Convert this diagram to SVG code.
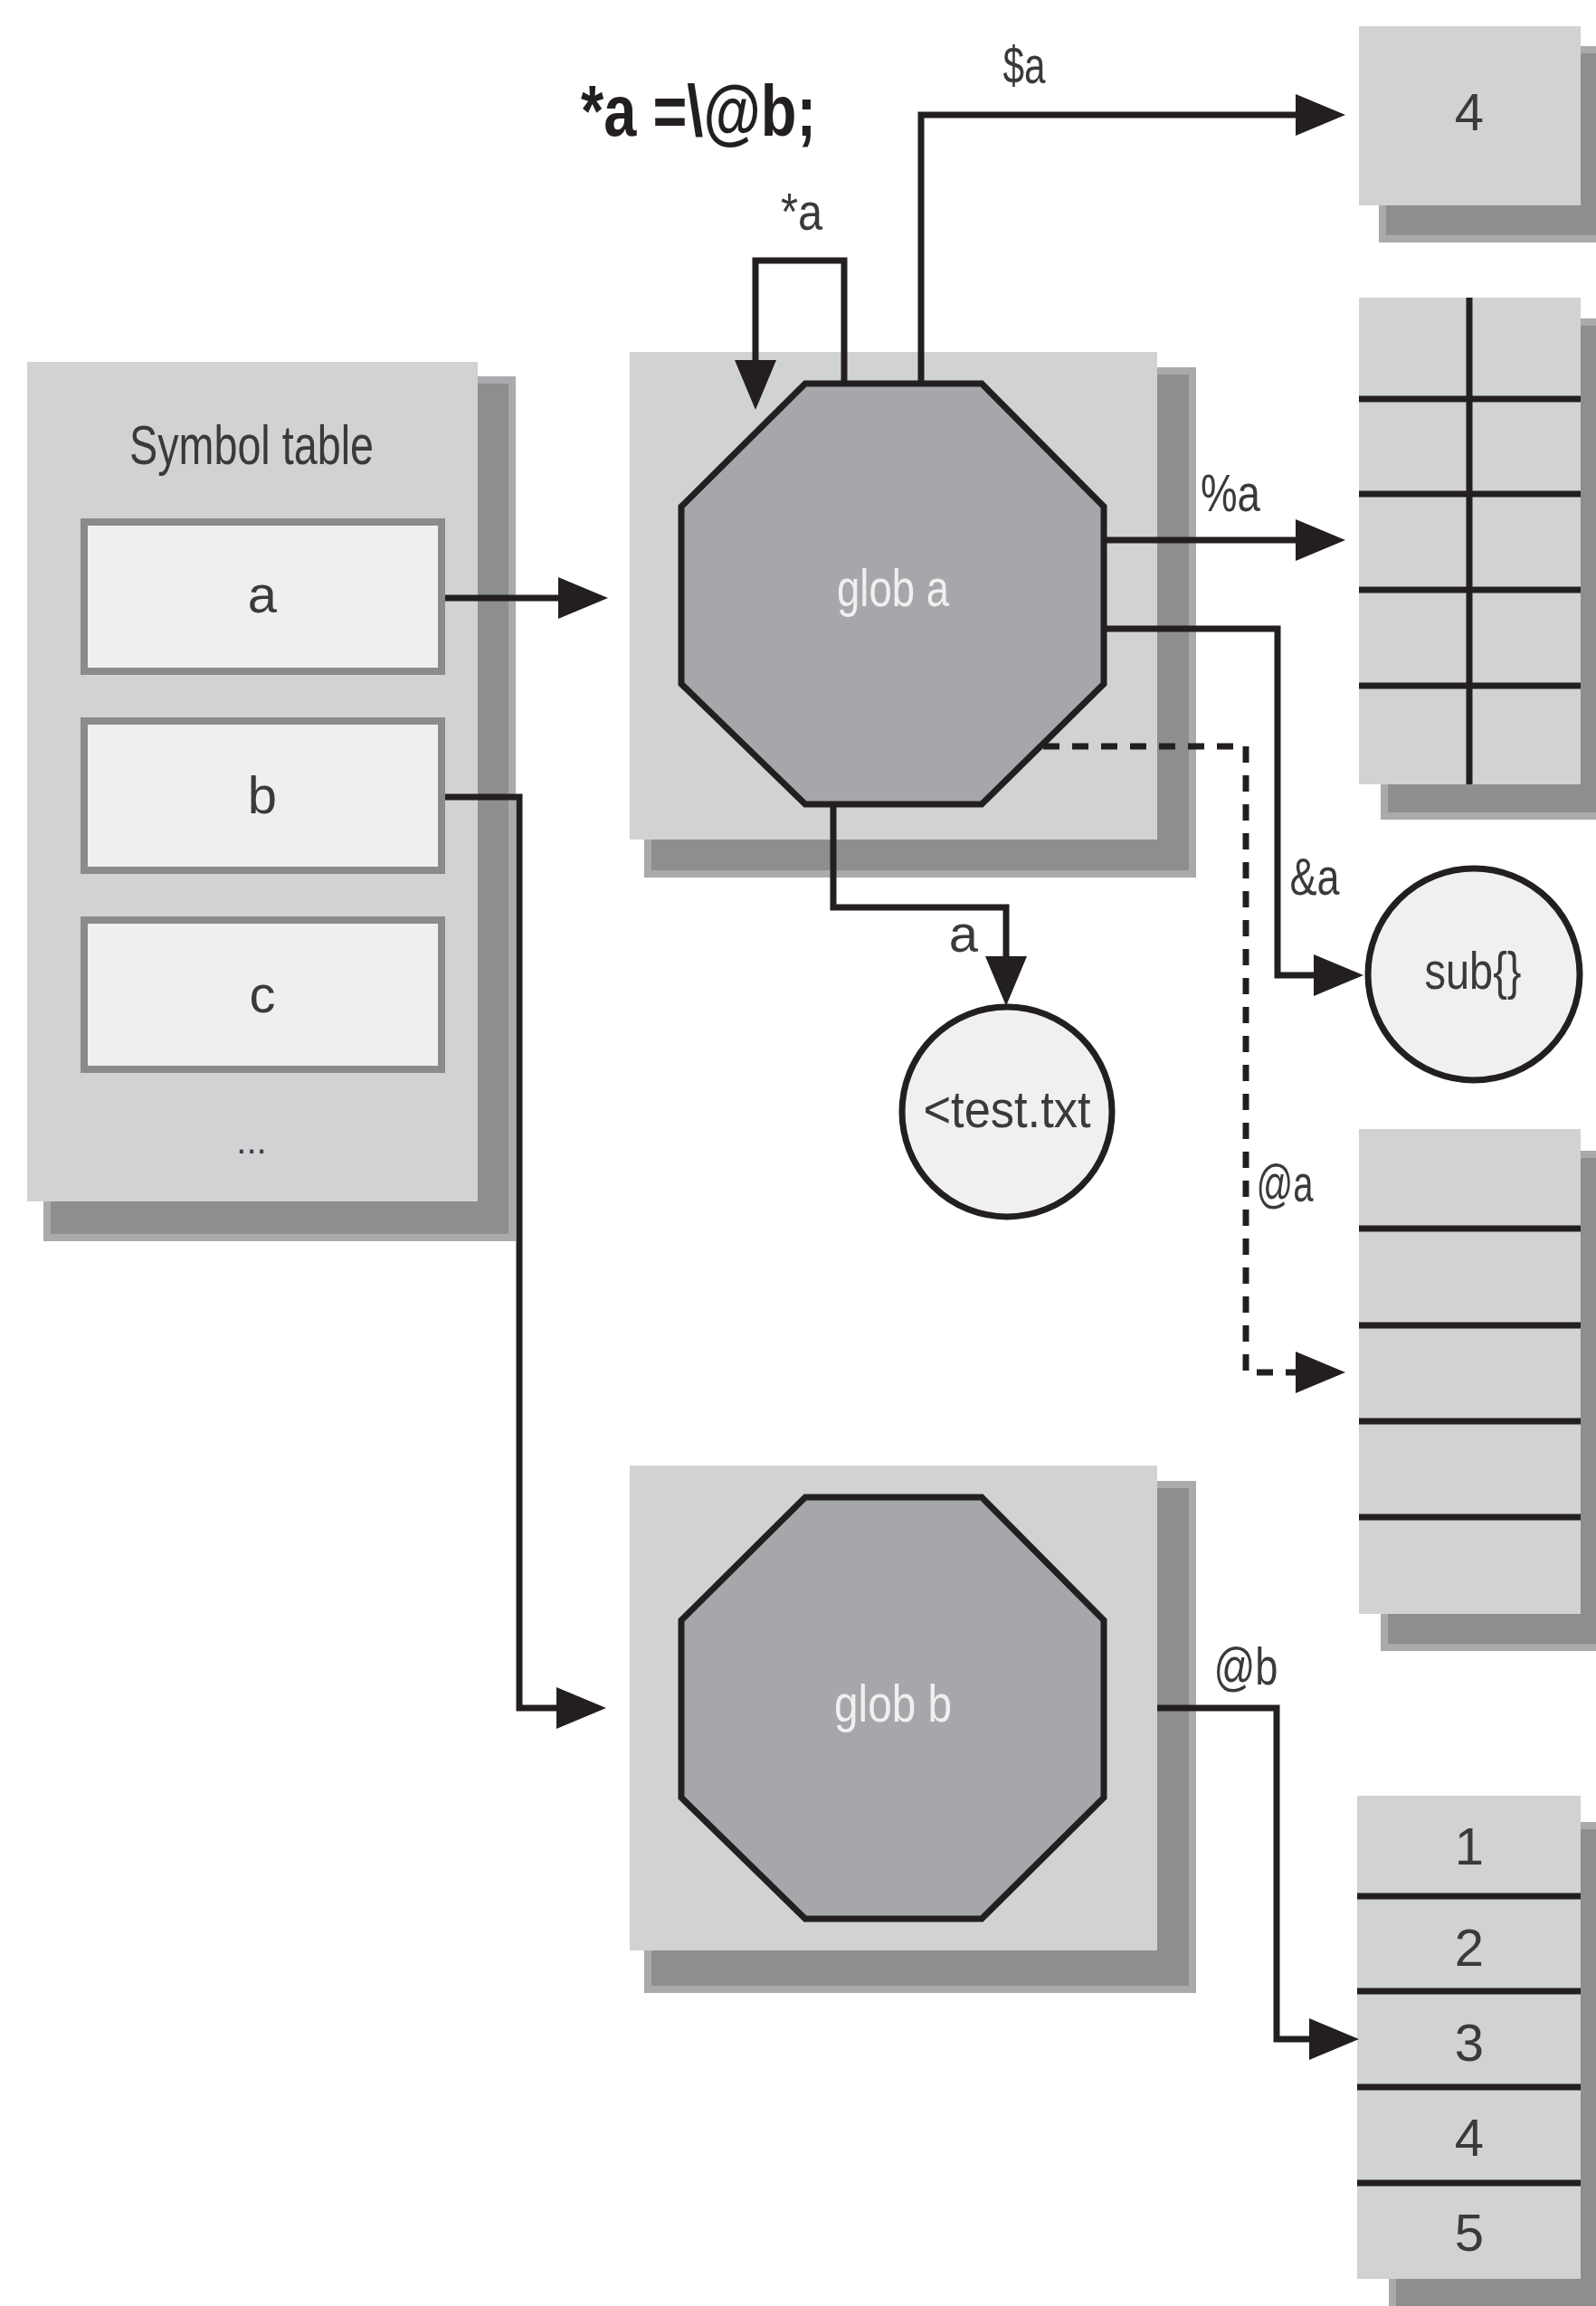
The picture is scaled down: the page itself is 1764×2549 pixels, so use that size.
<svg xmlns="http://www.w3.org/2000/svg" width="1764" height="2549" viewBox="0 0 1764 2549">
<style>
.panel{fill:#d1d2d4}
.shadow{fill:#8d8e90;stroke:#a9aaac;stroke-width:8}
.entry{fill:#efeff1;stroke:#8a8b8d;stroke-width:8}
.oct{fill:#a6a7aa;stroke:#231f20;stroke-width:7}
.circ{fill:#f0f0f2;stroke:#231f20;stroke-width:7}
.line{stroke:#231f20;stroke-width:7;fill:none}
.conn{stroke:#231f20;stroke-width:7;fill:none;marker-end:url(#arr)}
.dash{stroke-dasharray:18 14}
.t{font-family:"Liberation Sans",Arial,sans-serif;font-size:58px;fill:#3a3a3c;text-anchor:middle}
.w{fill:#f0f0f0}
</style>
<defs>
<marker id="arr" viewBox="0 0 55 46" markerWidth="55" markerHeight="46" markerUnits="userSpaceOnUse" refX="30" refY="23" orient="auto">
<path d="M0,0 L55,23 L0,46 z" fill="#231f20"/>
</marker>
</defs>
<rect width="1764" height="2549" fill="#ffffff"/>

<text class="t" x="772" y="150" style="font-size:80px;font-weight:bold;fill:#231f20" textLength="260" lengthAdjust="spacingAndGlyphs">*a =\@b;</text>

<g id="symbol-table">
<rect class="shadow" x="52" y="420" width="514" height="948"/>
<rect class="panel" x="30" y="400" width="498" height="928"/>
<text class="t" x="278" y="513" style="font-size:62px" textLength="270" lengthAdjust="spacingAndGlyphs">Symbol table</text>
<rect class="entry" x="93" y="577" width="395" height="165"/>
<text class="t" x="290" y="677">a</text>
<rect class="entry" x="93" y="797" width="395" height="165"/>
<text class="t" x="290" y="899">b</text>
<rect class="entry" x="93" y="1017" width="395" height="165"/>
<text class="t" x="290" y="1119">c</text>
<text class="t" x="278" y="1275" style="font-size:40px">...</text>
</g>

<g id="glob-a">
<rect class="shadow" x="716" y="410" width="602" height="556"/>
<rect class="panel" x="696" y="389" width="583" height="539"/>
<polygon class="oct" points="890,424 1085,424 1220,560 1220,756 1085,889 890,889 753,756 753,560"/>
<text class="t w" x="987" y="670" textLength="124" lengthAdjust="spacingAndGlyphs">glob a</text>
</g>

<g id="glob-b">
<rect class="shadow" x="716" y="1641" width="602" height="558"/>
<rect class="panel" x="696" y="1620" width="583" height="536"/>
<polygon class="oct" points="890,1655 1085,1655 1220,1791 1220,1987 1085,2121 890,2121 753,1987 753,1791"/>
<text class="t w" x="987" y="1903" textLength="130" lengthAdjust="spacingAndGlyphs">glob b</text>
</g>

<g id="scalar">
<rect class="shadow" x="1528" y="55" width="250" height="209"/>
<rect class="panel" x="1502" y="29" width="245" height="198"/>
<text class="t" x="1624" y="144">4</text>
</g>

<g id="hash">
<rect class="shadow" x="1530" y="356" width="250" height="546"/>
<rect class="panel" x="1502" y="329" width="245" height="538"/>
<path class="line" d="M1624,329 V867 M1502,441 H1747 M1502,546 H1747 M1502,652 H1747 M1502,758 H1747"/>
</g>

<g id="array-a">
<rect class="shadow" x="1530" y="1276" width="250" height="545"/>
<rect class="panel" x="1502" y="1248" width="245" height="536"/>
<path class="line" d="M1502,1358 H1747 M1502,1465 H1747 M1502,1571 H1747 M1502,1677 H1747"/>
</g>

<g id="array-b">
<rect class="shadow" x="1539" y="2018" width="250" height="560"/>
<rect class="panel" x="1500" y="1985" width="247" height="534"/>
<path class="line" d="M1500,2096 H1747 M1500,2201 H1747 M1500,2307 H1747 M1500,2413 H1747"/>
<text class="t" x="1624" y="2061">1</text>
<text class="t" x="1624" y="2173">2</text>
<text class="t" x="1624" y="2278">3</text>
<text class="t" x="1624" y="2383">4</text>
<text class="t" x="1624" y="2488">5</text>
</g>

<g id="filehandle">
<circle class="circ" cx="1113" cy="1229" r="116"/>
<text class="t" x="1113" y="1246" textLength="185" lengthAdjust="spacingAndGlyphs">&lt;test.txt</text>
</g>

<g id="sub">
<circle class="circ" cx="1629" cy="1077" r="117"/>
<text class="t" x="1628" y="1093" textLength="107" lengthAdjust="spacingAndGlyphs">sub{}</text>
</g>

<g id="connectors">
<path class="conn" d="M492,661 H647"/>
<path class="conn" d="M492,881 H574 V1888 H645"/>
<path class="conn" d="M933,424 V288 H835 V428"/>
<path class="conn" d="M1018,424 V127 H1462"/>
<path class="conn" d="M1220,597 H1462"/>
<path class="conn" d="M1220,695 H1412 V1078 H1482"/>
<path class="conn dash" d="M1153,825 H1377 V1517 H1462"/>
<path class="conn" d="M921,889 V1003 H1112 V1087"/>
<path class="conn" d="M1279,1888 H1411 V2254 H1477"/>
<text class="t" x="886" y="254" textLength="46" lengthAdjust="spacingAndGlyphs">*a</text>
<text class="t" x="1132" y="92" textLength="47" lengthAdjust="spacingAndGlyphs">$a</text>
<text class="t" x="1360" y="565" textLength="66" lengthAdjust="spacingAndGlyphs">%a</text>
<text class="t" x="1453" y="989" textLength="55" lengthAdjust="spacingAndGlyphs">&amp;a</text>
<text class="t" x="1420" y="1328" textLength="63" lengthAdjust="spacingAndGlyphs">@a</text>
<text class="t" x="1065" y="1052">a</text>
<text class="t" x="1377" y="1862" textLength="71" lengthAdjust="spacingAndGlyphs">@b</text>
</g>
</svg>
